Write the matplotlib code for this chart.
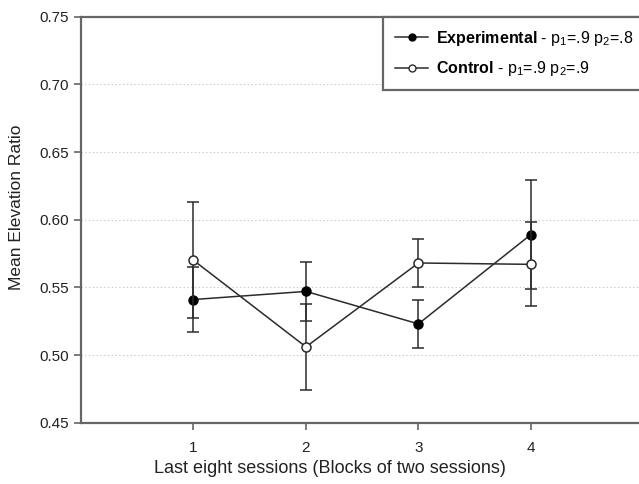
import matplotlib
matplotlib.use('Agg')
import numpy as np
import matplotlib.pyplot as plt
from matplotlib.lines import Line2D

plt.rcParams['font.family'] = 'Liberation Sans'
plt.rcParams['mathtext.fontset'] = 'custom'
plt.rcParams['mathtext.rm'] = 'Liberation Sans'
plt.rcParams['mathtext.it'] = 'Liberation Sans'
plt.rcParams['mathtext.bf'] = 'Liberation Sans:bold'

# blocks of two sessions
blocks = [1, 2, 3, 4]
# mean elevation ratio and error bars
exp_mean = [0.541, 0.547, 0.523, 0.589]
exp_err = [0.024, 0.022, 0.018, 0.040]
ctl_mean = [0.570, 0.506, 0.568, 0.567]
ctl_err = [0.043, 0.032, 0.018, 0.031]

exp_label = r'$\mathbf{Experimental}$ - p$_1$=.9 p$_2$=.8'
ctl_label = r'$\mathbf{Control}$ - p$_1$=.9 p$_2$=.9'

linecol = '#2b2b2b'
spinecol = '#666666'
textcol = '#222222'

fig = plt.figure(figsize=(6.39, 4.84), dpi=100)
ax = fig.add_axes([0.1268, 0.1267, 0.88, 0.8388])

ax.errorbar(blocks, exp_mean, yerr=exp_err, color=linecol, lw=1.1,
            marker='o', ms=6.5, mfc='black', mec='black', capsize=4.5,
            elinewidth=1.1, capthick=1.1, zorder=3)
ax.errorbar(blocks, ctl_mean, yerr=ctl_err, color=linecol, lw=1.1,
            marker='o', ms=6.5, mfc='white', mec=linecol, mew=1.1,
            capsize=4.5, elinewidth=1.1, capthick=1.1, zorder=4)

ax.set_xlim(0, 5)
ax.set_ylim(0.45, 0.75)
ax.set_xticks(blocks)
yt = np.arange(0.45, 0.751, 0.05)
ax.set_yticks(yt)
ax.set_yticklabels(['%.2f' % v for v in yt])
for v in [0.50, 0.55, 0.60, 0.65, 0.70]:
    ax.axhline(v, color='#c8c8c8', lw=0.8, ls=(0, (1.2, 2.2)), zorder=1)

for s in ['left', 'bottom', 'top', 'right']:
    ax.spines[s].set_color(spinecol)
    ax.spines[s].set_linewidth(1.6)
ax.tick_params(direction='out', length=5, width=1.2, color=spinecol,
               labelsize=11, labelcolor=textcol, pad=4)
ax.tick_params(axis='x', pad=8)

ax.set_xlabel('Last eight sessions (Blocks of two sessions)', fontsize=13,
              color=textcol)
ax.xaxis.set_label_coords(0.442, -0.092)
ax.set_ylabel('Mean Elevation Ratio', fontsize=12.5, color=textcol)
ax.yaxis.set_label_coords(-0.102, 0.53)

# legend handles: line with marker, no error bars
handles = [Line2D([], [], color=linecol, lw=1.1, marker='o', ms=5,
                  mfc='black', mec='black'),
           Line2D([], [], color=linecol, lw=1.1, marker='o', ms=5,
                  mfc='white', mec=linecol)]
leg = ax.legend(handles, [exp_label, ctl_label], loc='upper left',
                bbox_to_anchor=(0.599, 0.9655),
                bbox_transform=fig.transFigure, fontsize=11.5,
                fancybox=False, framealpha=1, edgecolor=spinecol,
                handlelength=2.1, handletextpad=0.5, borderpad=0.75,
                labelspacing=0.72, borderaxespad=0)
leg.get_frame().set_linewidth(1.6)

plt.savefig('out.png', dpi=100)
